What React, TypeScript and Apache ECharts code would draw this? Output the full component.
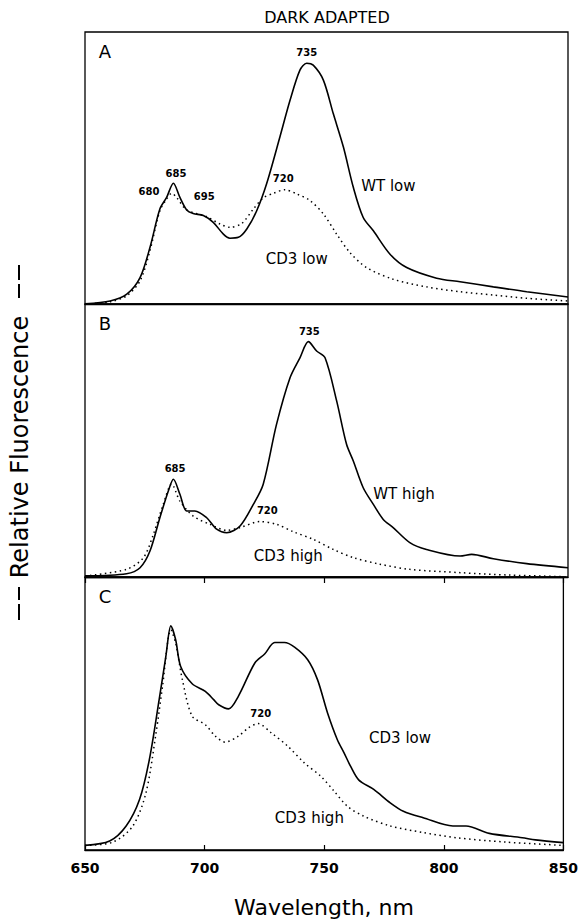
import React, { useEffect, useRef } from "react";
import * as echarts from "echarts";

// ---- Data (wavelength nm, relative fluorescence 0..100 per panel) ----
const X_MIN = 650;
const X_MAX = 850;
const X_STEP = 50;

const A_WT_LOW: [number, number][] = [
  [650, 0.1], [660.4, 1.1], [667.3, 3.6], [672.8, 9.7], [676.9, 20.8], [681, 34.9],
  [683.8, 39.2], [686.6, 44.4], [689.3, 39.2], [692.1, 34.6], [694.8, 33.3], [699, 32.5],
  [703.1, 30.0], [707.3, 25.7], [710, 24.2], [713.5, 24.5], [717, 27.6], [721.1, 34.3],
  [725.2, 44.2], [730.7, 61.4], [734.9, 74.9], [739, 86.0], [741.8, 88.5], [744.5, 87.8],
  [748.7, 82.3], [752.8, 70.0], [757, 57.7], [761.1, 42.9], [765.2, 31.8], [769.4, 26.9],
  [776.3, 18.3], [783.2, 13.4], [795.6, 9.5], [805.3, 8.2], [819.1, 6.3], [832.9, 4.5], [850, 2.6],
];
const A_CD3_LOW: [number, number][] = [
  [650, 0], [660.3, 0.8], [667.2, 3.0], [672.8, 8.5], [676.9, 19.6], [681, 34.3],
  [683.8, 38.6], [685.9, 40.7], [687.9, 39.2], [692.1, 34.6], [700.4, 32.1], [705.9, 29.4],
  [710, 28.2], [714.9, 29.6], [719.7, 34.9], [723.8, 39.0], [728, 40.7], [732.8, 42.0],
  [737.6, 40.5], [743.2, 38.0], [748.7, 33.1], [754.2, 25.7], [759.7, 18.9], [766.6, 13.4],
  [777.6, 9.1], [791.4, 6.3], [805.3, 4.5], [819.1, 3.3], [832.9, 2.1], [850, 1.1],
];

const B_WT_HIGH: [number, number][] = [
  [650, 0.4], [667.2, 1.2], [672.8, 3.4], [676.9, 9.5], [681, 21.7], [684.5, 31.5],
  [686.6, 35.8], [689.3, 30.3], [692.1, 24.2], [695.5, 24.2], [700.4, 21.7], [704.5, 17.5],
  [708.7, 16.2], [714.2, 18.7], [719.7, 26.6], [723.8, 34.0], [729.3, 55.9], [734.9, 73.0],
  [739, 80.3], [742.5, 86.2], [745.9, 82.8], [749.4, 80.3], [754.2, 64.5], [758.3, 48.6],
  [761.1, 42.5], [765.2, 32.7], [769.4, 26.6], [773.5, 21.1], [777.6, 18.1], [784.5, 12.6],
  [791.4, 10.1], [805.3, 7.7], [810.1, 8.3], [819.1, 6.7], [832.9, 4.9], [850, 3.4],
];
const B_CD3_HIGH: [number, number][] = [
  [650, 0.4], [667.2, 2.8], [674.2, 7.1], [678.3, 15.6], [682.4, 26.6], [685.9, 34.0],
  [689.3, 27.8], [694.8, 22.3], [701.7, 19.3], [708.7, 17.1], [714.2, 18.1], [722.5, 20.3],
  [729.3, 19.3], [736.2, 16.6], [744.5, 13.8], [752.8, 10.1], [761.1, 7.1], [772.1, 4.7],
  [784.5, 2.8], [805.3, 1.6], [826, 0.7], [850, 0.1],
];

const C_CD3_LOW: [number, number][] = [
  [650, 1.7], [660.3, 3.3], [667.2, 8.8], [672.8, 18.5], [676.9, 33.1], [681, 55.1],
  [683.8, 70.9], [685.9, 82.1], [687.9, 77.0], [690, 67.2], [694.8, 60.9], [700.3, 58.1],
  [703.8, 55.1], [705.9, 53.2], [710, 51.7], [714.1, 56.3], [721, 68.5], [725.2, 71.9],
  [729.3, 76.0], [733.4, 76.0], [737.6, 74.3], [743.1, 69.7], [747.2, 62.4], [751.4, 50.2],
  [755.5, 40.4], [758.3, 35.6], [761, 30.7], [764.5, 25.6], [770.7, 22.2], [777.6, 17.3],
  [783.1, 14.2], [791.4, 11.8], [803.8, 8.8], [809.3, 8.8], [819, 6.1], [832.8, 4.5],
  [838.3, 3.7], [850, 2.7],
];
const C_CD3_HIGH: [number, number][] = [
  [650, 1.7], [661.7, 2.9], [670, 8.8], [675.5, 21.0], [679.7, 42.9], [682.4, 59.9],
  [685.9, 80.6], [687.9, 75.8], [690.7, 62.4], [694.8, 49.0], [700.3, 45.9], [704.5, 41.7],
  [708.6, 39.5], [714.1, 41.7], [718.3, 44.7], [722.4, 46.3], [727.9, 42.9], [734.8, 38.0],
  [741.7, 31.9], [748.6, 27.0], [754.1, 21.6], [759.6, 16.1], [766.5, 12.4], [777.6, 8.8],
  [791.4, 6.4], [805.1, 4.5], [825.8, 2.9], [850, 1.7],
];

// peak wavelength labels [x, y, text]
const A_PEAKS: [number, number, string][] = [
  [741.8, 92.5, "735"], [687.7, 47.9, "685"], [676.5, 41.3, "680"], [699.4, 39.5, "695"], [732.1, 46.0, "720"],
];
const B_PEAKS: [number, number, string][] = [
  [742.9, 89.9, "735"], [687.3, 39.8, "685"], [725.5, 24.2, "720"],
];
const C_PEAKS: [number, number, string][] = [[723.5, 49.9, "720"]];

// curve names [x, y, text]
const A_NAMES: [number, number, string][] = [[775.6, 43.5, "WT low"], [737.7, 16.5, "CD3 low"]];
const B_NAMES: [number, number, string][] = [[782.1, 30.3, "WT high"], [734.2, 7.7, "CD3 high"]];
const C_NAMES: [number, number, string][] = [[781.7, 41.1, "CD3 low"], [743.8, 11.8, "CD3 high"]];

const PANEL_LETTERS = ["A", "B", "C"];
const TITLE = "DARK ADAPTED";
const X_NAME = "Wavelength, nm";
const Y_NAME = "Relative Fluorescence";

const FONT = "'DejaVu Sans', 'Noto Sans', sans-serif";

export default function App() {
  const ref = useRef<HTMLDivElement>(null);

  useEffect(() => {
    if (!ref.current) return;
    const chart = echarts.init(ref.current, undefined, { renderer: "svg" });

    const panels = [
      { top: 32, height: 272, solid: A_WT_LOW, dotted: A_CD3_LOW, peaks: A_PEAKS, names: A_NAMES },
      { top: 304, height: 273, solid: B_WT_HIGH, dotted: B_CD3_HIGH, peaks: B_PEAKS, names: B_NAMES },
      { top: 577, height: 273, solid: C_CD3_LOW, dotted: C_CD3_HIGH, peaks: C_PEAKS, names: C_NAMES },
    ];
    const left = 85;
    const width = 483;

    const grid = panels.map((p) => ({
      left, width, top: p.top, height: p.height,
      show: true, borderColor: "#000", borderWidth: 1.3, backgroundColor: "transparent",
    }));

    const xAxis: any[] = [];
    const yAxis: any[] = [];
    panels.forEach((p, i) => {
      const isLast = i === panels.length - 1;
      xAxis.push({
        type: "value", gridIndex: i, min: X_MIN, max: X_MAX, interval: X_STEP, position: "bottom",
        axisLine: { show: true, lineStyle: { color: "#000", width: 1.3 } },
        axisTick: { show: isLast, inside: true, length: 5, lineStyle: { color: "#000", width: 1.2 } },
        axisLabel: {
          show: isLast, color: "#000", fontSize: 14, fontWeight: "bold", fontFamily: FONT, margin: 11,
        },
        splitLine: { show: false },
      });
      yAxis.push({
        type: "value", gridIndex: i, min: 0, max: 100, show: false,
      });
    });
    // top ticks of panel C
    xAxis.push({
      type: "value", gridIndex: 2, min: X_MIN, max: X_MAX, interval: X_STEP, position: "top",
      axisLine: { show: true, lineStyle: { color: "#000", width: 1.3 } },
      axisTick: { show: true, inside: true, length: 6, lineStyle: { color: "#000", width: 1.2 } },
      axisLabel: { show: false },
      splitLine: { show: false },
    });

    const textLabel = (size: number, weight: string) => ({
      show: true, position: "inside", formatter: "{b}", color: "#000", opacity: 1,
      textBorderWidth: 0, fontSize: size, fontWeight: weight, fontFamily: FONT,
    });

    const series: any[] = [];
    panels.forEach((p, i) => {
      series.push({
        type: "line", xAxisIndex: i, yAxisIndex: i, data: p.solid, showSymbol: false, smooth: 0.3,
        lineStyle: { color: "#000", width: 1.6 }, silent: true,
      });
      series.push({
        type: "line", xAxisIndex: i, yAxisIndex: i, data: p.dotted, showSymbol: false, smooth: 0.3,
        lineStyle: { color: "#000", width: 1.5, type: [1.5, 3.5] }, silent: true,
      });
      series.push({
        type: "scatter", xAxisIndex: i, yAxisIndex: i, symbolSize: 0, silent: true,
        itemStyle: { opacity: 1, color: "#000" },
        data: p.peaks.map((d) => ({ value: [d[0], d[1]], name: d[2] })),
        label: textLabel(10, "bold"),
      });
      series.push({
        type: "scatter", xAxisIndex: i, yAxisIndex: i, symbolSize: 0, silent: true,
        itemStyle: { opacity: 1, color: "#000" },
        data: p.names.map((d) => ({ value: [d[0], d[1]], name: d[2] })),
        label: textLabel(15, "normal"),
      });
    });

    const dash = (y1: number, y2: number) => ({
      type: "line", shape: { x1: 19, y1, x2: 19, y2 }, style: { stroke: "#000", lineWidth: 2 },
    });

    const graphic: any[] = [
      {
        type: "text", x: 327, y: 17,
        style: { text: TITLE, fill: "#000", font: `16px ${FONT}`, textAlign: "center", textVerticalAlign: "middle" },
      },
      {
        type: "text", x: 324, y: 907,
        style: { text: X_NAME, fill: "#000", font: `22px ${FONT}`, textAlign: "center", textVerticalAlign: "middle" },
      },
      {
        type: "text", x: 20, y: 447, rotation: Math.PI / 2,
        style: { text: Y_NAME, fill: "#000", font: `24px ${FONT}`, textAlign: "center", textVerticalAlign: "middle" },
      },
      // dashes flanking the y-axis title
      dash(265, 280), dash(284, 298), dash(587, 600), dash(604, 620),
    ];
    panels.forEach((p, i) => {
      graphic.push({
        type: "text", x: left + 20, y: p.top + 19,
        style: { text: PANEL_LETTERS[i], fill: "#000", font: `18px ${FONT}`, textAlign: "center", textVerticalAlign: "middle" },
      });
    });

    chart.setOption({
      animation: false,
      backgroundColor: "#fff",
      grid, xAxis, yAxis, series, graphic,
    });

    return () => chart.dispose();
  }, []);

  return (
    <div
      ref={ref}
      style={{ position: "fixed", left: 0, top: 0, width: 581, height: 924, background: "#fff" }}
    />
  );
}
